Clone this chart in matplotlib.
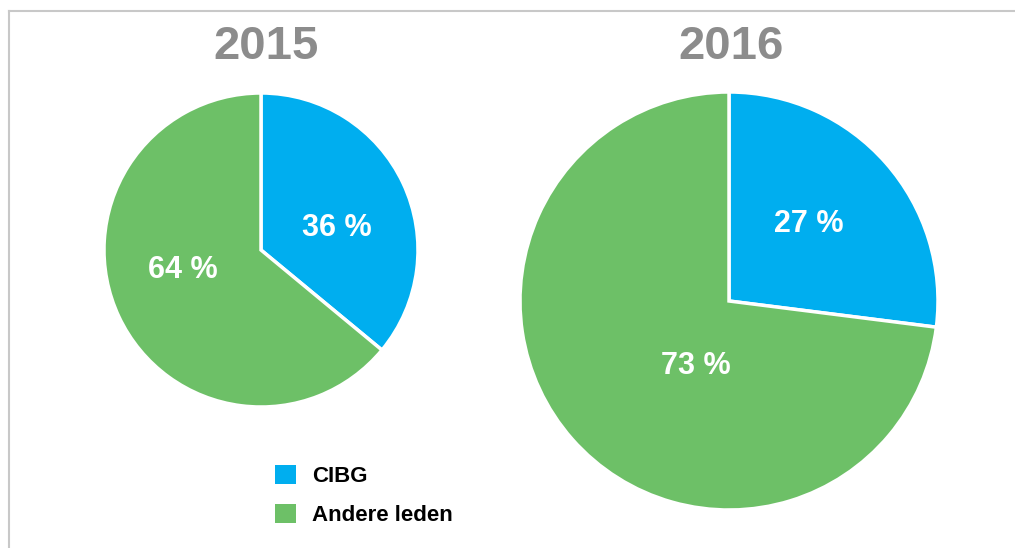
import matplotlib.pyplot as plt
from matplotlib.lines import Line2D

plt.rcParams['font.family'] = ['Liberation Sans', 'DejaVu Sans']

# data
years = ["2015", "2016"]
categories = ["CIBG", "Andere leden"]
shares_2015 = [36, 64]
shares_2016 = [27, 73]
colors = ["#00AEEF", "#6DC067"]

W, H = 1015, 548
fig = plt.figure(figsize=(W / 100, H / 100), dpi=100)

# gray frame lines (top and left)
fig.add_artist(Line2D([9 / W, 1], [1 - 11 / H, 1 - 11 / H], color="#c8c8c8", lw=1.5))
fig.add_artist(Line2D([9 / W, 9 / W], [0, 1 - 11 / H], color="#c8c8c8", lw=1.5))


def draw_pie(cx, cy, r, values, label_pos, fontsize):
    ax = fig.add_axes([(cx - r) / W, (H - cy - r) / H, 2 * r / W, 2 * r / H])
    wedges, _ = ax.pie(values, colors=colors, startangle=90, counterclock=False,
                       radius=1, wedgeprops=dict(edgecolor="white", linewidth=2.5))
    for v, (x, y) in zip(values, label_pos):
        ax.text(x, y, f"{v} %", ha="center", va="center", color="white",
                fontsize=fontsize, fontweight="bold")
    ax.set_xlim(-1.0, 1.0)
    ax.set_ylim(-1.0, 1.0)
    ax.axis("off")
    return ax, wedges


ax1, wedges = draw_pie(261, 250, 157, shares_2015, [(0.48, 0.14), (-0.50, -0.13)], 22)
ax2, _ = draw_pie(729, 301, 209, shares_2016, [(0.38, 0.37), (-0.16, -0.31)], 22)

fig.text(266 / W, 1 - 47 / H, years[0], ha="center", va="center",
         fontsize=34, fontweight="bold", color="#8c8c8c")
fig.text(731 / W, 1 - 47 / H, years[1], ha="center", va="center",
         fontsize=34, fontweight="bold", color="#8c8c8c")

leg = fig.legend(wedges, categories, loc="upper left",
                 bbox_to_anchor=(264 / W, 1 - 454 / H), frameon=False,
                 handlelength=0.92, handleheight=0.92, handletextpad=0.75,
                 labelspacing=0.75, borderpad=0, prop=dict(size=16, weight="bold"))
for h in leg.legend_handles:
    h.set_edgecolor("none")

fig.savefig("out.png", dpi=100)
